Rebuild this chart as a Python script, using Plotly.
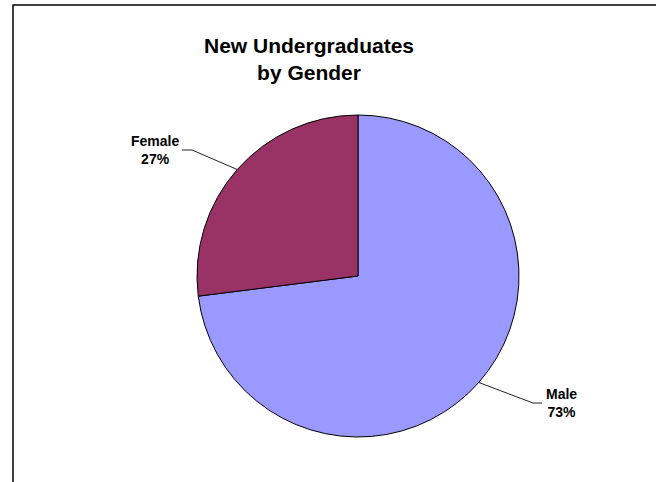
import math
import plotly.graph_objects as go

categories = ["Male", "Female"]
values = [73, 27]
colors = ["#9999FF", "#993366"]
title_text = "New Undergraduates<br>by Gender"

W, H = 656, 482
cx, cy, r = 358, 276, 161

def px(x):
    return x / W

def py(y):
    return 1 - y / H

fig = go.Figure(go.Pie(
    labels=categories,
    values=values,
    sort=False,
    direction="clockwise",
    rotation=0,
    marker=dict(colors=colors, line=dict(color="black", width=1)),
    textinfo="none",
    hoverinfo="label+percent",
    showlegend=False,
    domain=dict(x=[px(cx - r), px(cx + r)], y=[py(cy + r), py(cy - r)]),
))

# leader lines and labels, computed from slice mid-angles
label_pos = {"Male": (561, 403, 542), "Female": (155, 150, 182)}  # text center x, text mid y, elbow end x
total = sum(values)
start = 90.0
shapes = []
annotations = []
for cat, v in zip(categories, values):
    frac = v / total
    mid = start - frac * 360 / 2
    start -= frac * 360
    ang = math.radians(mid)
    ex, ey = cx + r * math.cos(ang), cy - r * math.sin(ang)
    tx, ty, hx = label_pos[cat]
    elbow_x = hx - 9 if cat == "Male" else hx + 10
    shapes.append(dict(type="path", xref="paper", yref="paper",
                       path=f"M {px(ex)} {py(ey)} L {px(elbow_x)} {py(ty)} L {px(hx)} {py(ty)}",
                       line=dict(color="#222222", width=1)))
    pct = round(frac * 100)
    annotations.append(dict(x=px(tx), y=py(ty), xref="paper", yref="paper",
                            text=f"<b>{cat}<br>{pct}%</b>", showarrow=False,
                            xanchor="center", yanchor="middle",
                            font=dict(family="Arial, Liberation Sans", size=14, color="black")))

annotations.append(dict(x=px(309), y=py(59), xref="paper", yref="paper",
                        text=f"<b>{title_text}</b>", showarrow=False,
                        xanchor="center", yanchor="middle",
                        font=dict(family="Arial, Liberation Sans", size=21, color="black")))

# chart-area frame: only the left and top edges fall inside the picture
shapes.append(dict(type="path", xref="paper", yref="paper",
                   path=f"M {px(13)} 0 L {px(13)} {py(5)} L 1 {py(5)}",
                   line=dict(color="black", width=1.5)))

fig.update_layout(
    width=W, height=H,
    margin=dict(l=0, r=0, t=0, b=0),
    paper_bgcolor="white", plot_bgcolor="white",
    shapes=shapes, annotations=annotations,
)

fig.write_html(
    "out.html",
    config={"displayModeBar": False},
    post_script=(
        "document.documentElement.style.overflow='hidden';"
        "document.body.style.margin='0';"
        "document.body.style.overflow='hidden';"
    ),
)
